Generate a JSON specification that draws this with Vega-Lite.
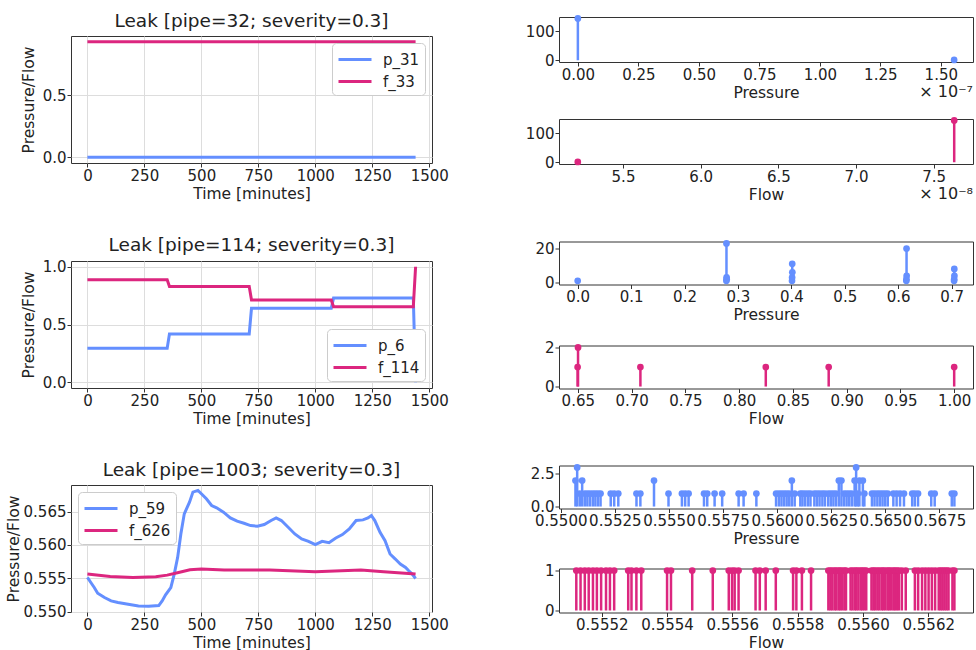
{
  "$schema": "https://vega.github.io/schema/vega-lite/v6.json",
  "padding": {"left": 5, "top": 11, "right": 0, "bottom": 0},
  "background": "white",
  "datasets": {
    "line1": [
      {"t": 0, "value": 0.0, "series": "p_31"},
      {"t": 720, "value": 0.0, "series": "p_31"},
      {"t": 1440, "value": 0.0, "series": "p_31"},
      {"t": 0, "value": 0.932, "series": "f_33"},
      {"t": 720, "value": 0.932, "series": "f_33"},
      {"t": 1440, "value": 0.932, "series": "f_33"}
    ],
    "line2": [
      {"t": 0, "value": 0.294, "series": "p_6"},
      {"t": 350, "value": 0.294, "series": "p_6"},
      {"t": 360, "value": 0.418, "series": "p_6"},
      {"t": 710, "value": 0.418, "series": "p_6"},
      {"t": 720, "value": 0.64, "series": "p_6"},
      {"t": 1070, "value": 0.64, "series": "p_6"},
      {"t": 1080, "value": 0.729, "series": "p_6"},
      {"t": 1430, "value": 0.729, "series": "p_6"},
      {"t": 1440, "value": 0.0, "series": "p_6"},
      {"t": 0, "value": 0.888, "series": "f_114"},
      {"t": 350, "value": 0.888, "series": "f_114"},
      {"t": 360, "value": 0.83, "series": "f_114"},
      {"t": 710, "value": 0.83, "series": "f_114"},
      {"t": 720, "value": 0.712, "series": "f_114"},
      {"t": 1070, "value": 0.712, "series": "f_114"},
      {"t": 1080, "value": 0.654, "series": "f_114"},
      {"t": 1430, "value": 0.654, "series": "f_114"},
      {"t": 1440, "value": 1.0, "series": "f_114"}
    ],
    "line3": [
      {"t": 0, "value": 0.55515, "series": "p_59"},
      {"t": 15, "value": 0.5544, "series": "p_59"},
      {"t": 30, "value": 0.55365, "series": "p_59"},
      {"t": 45, "value": 0.5528, "series": "p_59"},
      {"t": 75, "value": 0.55215, "series": "p_59"},
      {"t": 104, "value": 0.55165, "series": "p_59"},
      {"t": 134, "value": 0.5514, "series": "p_59"},
      {"t": 179, "value": 0.55115, "series": "p_59"},
      {"t": 224, "value": 0.5509, "series": "p_59"},
      {"t": 269, "value": 0.55085, "series": "p_59"},
      {"t": 313, "value": 0.55095, "series": "p_59"},
      {"t": 328, "value": 0.55165, "series": "p_59"},
      {"t": 343, "value": 0.55255, "series": "p_59"},
      {"t": 366, "value": 0.55365, "series": "p_59"},
      {"t": 381, "value": 0.55565, "series": "p_59"},
      {"t": 396, "value": 0.55815, "series": "p_59"},
      {"t": 410, "value": 0.56165, "series": "p_59"},
      {"t": 425, "value": 0.56465, "series": "p_59"},
      {"t": 448, "value": 0.5664, "series": "p_59"},
      {"t": 463, "value": 0.5679, "series": "p_59"},
      {"t": 485, "value": 0.56815, "series": "p_59"},
      {"t": 500, "value": 0.56765, "series": "p_59"},
      {"t": 522, "value": 0.5669, "series": "p_59"},
      {"t": 545, "value": 0.5659, "series": "p_59"},
      {"t": 567, "value": 0.56555, "series": "p_59"},
      {"t": 597, "value": 0.5649, "series": "p_59"},
      {"t": 627, "value": 0.56405, "series": "p_59"},
      {"t": 657, "value": 0.56355, "series": "p_59"},
      {"t": 687, "value": 0.56325, "series": "p_59"},
      {"t": 716, "value": 0.5629, "series": "p_59"},
      {"t": 746, "value": 0.5628, "series": "p_59"},
      {"t": 776, "value": 0.56305, "series": "p_59"},
      {"t": 806, "value": 0.56365, "series": "p_59"},
      {"t": 828, "value": 0.56405, "series": "p_59"},
      {"t": 851, "value": 0.56365, "series": "p_59"},
      {"t": 881, "value": 0.56265, "series": "p_59"},
      {"t": 910, "value": 0.56165, "series": "p_59"},
      {"t": 940, "value": 0.5609, "series": "p_59"},
      {"t": 970, "value": 0.56055, "series": "p_59"},
      {"t": 1000, "value": 0.56005, "series": "p_59"},
      {"t": 1030, "value": 0.56055, "series": "p_59"},
      {"t": 1060, "value": 0.56035, "series": "p_59"},
      {"t": 1090, "value": 0.56105, "series": "p_59"},
      {"t": 1119, "value": 0.56155, "series": "p_59"},
      {"t": 1149, "value": 0.5624, "series": "p_59"},
      {"t": 1179, "value": 0.56365, "series": "p_59"},
      {"t": 1209, "value": 0.56375, "series": "p_59"},
      {"t": 1231, "value": 0.56405, "series": "p_59"},
      {"t": 1246, "value": 0.5644, "series": "p_59"},
      {"t": 1261, "value": 0.56365, "series": "p_59"},
      {"t": 1284, "value": 0.5619, "series": "p_59"},
      {"t": 1306, "value": 0.56065, "series": "p_59"},
      {"t": 1328, "value": 0.55865, "series": "p_59"},
      {"t": 1351, "value": 0.5579, "series": "p_59"},
      {"t": 1373, "value": 0.55715, "series": "p_59"},
      {"t": 1396, "value": 0.55665, "series": "p_59"},
      {"t": 1410, "value": 0.55615, "series": "p_59"},
      {"t": 1425, "value": 0.55565, "series": "p_59"},
      {"t": 1440, "value": 0.555, "series": "p_59"},
      {"t": 0, "value": 0.55565, "series": "f_626"},
      {"t": 100, "value": 0.5553, "series": "f_626"},
      {"t": 200, "value": 0.55515, "series": "f_626"},
      {"t": 300, "value": 0.55525, "series": "f_626"},
      {"t": 350, "value": 0.5555, "series": "f_626"},
      {"t": 400, "value": 0.5559, "series": "f_626"},
      {"t": 450, "value": 0.5563, "series": "f_626"},
      {"t": 500, "value": 0.5564, "series": "f_626"},
      {"t": 600, "value": 0.55625, "series": "f_626"},
      {"t": 800, "value": 0.55625, "series": "f_626"},
      {"t": 1000, "value": 0.556, "series": "f_626"},
      {"t": 1200, "value": 0.55625, "series": "f_626"},
      {"t": 1300, "value": 0.556, "series": "f_626"},
      {"t": 1440, "value": 0.55565, "series": "f_626"}
    ],
    "p1": [{"v": 0, "c": 143}, {"v": 1.555e-7, "c": 1}],
    "f1": [{"v": 5.209e-8, "c": 1}, {"v": 7.632e-8, "c": 143}],
    "p2": [
      {"v": 0, "c": 1},
      {"v": 0.2783, "c": 1}, {"v": 0.2785, "c": 23}, {"v": 0.2787, "c": 3}, {"v": 0.2789, "c": 2},
      {"v": 0.4012, "c": 1}, {"v": 0.4014, "c": 3}, {"v": 0.4016, "c": 11}, {"v": 0.4018, "c": 6},
      {"v": 0.6152, "c": 1}, {"v": 0.6154, "c": 2}, {"v": 0.6156, "c": 20}, {"v": 0.6158, "c": 4},
      {"v": 0.7046, "c": 1}, {"v": 0.7048, "c": 2}, {"v": 0.705, "c": 8}, {"v": 0.7052, "c": 4}
    ],
    "f2": [
      {"v": 0.6498, "c": 1}, {"v": 0.6502, "c": 2}, {"v": 0.7082, "c": 1},
      {"v": 0.8248, "c": 1}, {"v": 0.8833, "c": 1}, {"v": 1.0, "c": 1}
    ],
    "p3": [
      {"v": 0.55068, "c": 2}, {"v": 0.55076, "c": 3}, {"v": 0.55088, "c": 1}, {"v": 0.55099, "c": 2},
      {"v": 0.55111, "c": 1}, {"v": 0.55123, "c": 1}, {"v": 0.55135, "c": 1}, {"v": 0.55148, "c": 1},
      {"v": 0.5516, "c": 1}, {"v": 0.55172, "c": 1}, {"v": 0.55184, "c": 1},
      {"v": 0.55231, "c": 1}, {"v": 0.55247, "c": 1}, {"v": 0.55266, "c": 1},
      {"v": 0.5535, "c": 1}, {"v": 0.55368, "c": 1}, {"v": 0.55431, "c": 2}, {"v": 0.55498, "c": 1},
      {"v": 0.5556, "c": 1}, {"v": 0.55575, "c": 1}, {"v": 0.55591, "c": 1},
      {"v": 0.55662, "c": 1}, {"v": 0.55677, "c": 1}, {"v": 0.55711, "c": 1}, {"v": 0.55746, "c": 1},
      {"v": 0.55822, "c": 1}, {"v": 0.55845, "c": 1}, {"v": 0.55904, "c": 1},
      {"v": 0.55995, "c": 1}, {"v": 0.56008, "c": 1}, {"v": 0.5602, "c": 1}, {"v": 0.56032, "c": 1},
      {"v": 0.56044, "c": 1}, {"v": 0.56056, "c": 1}, {"v": 0.56068, "c": 2}, {"v": 0.56081, "c": 1},
      {"v": 0.56107, "c": 1}, {"v": 0.56117, "c": 1}, {"v": 0.56129, "c": 1}, {"v": 0.56142, "c": 1},
      {"v": 0.56154, "c": 1}, {"v": 0.56172, "c": 1}, {"v": 0.56184, "c": 1}, {"v": 0.56196, "c": 1},
      {"v": 0.56209, "c": 1}, {"v": 0.56221, "c": 1}, {"v": 0.56236, "c": 1}, {"v": 0.56248, "c": 1},
      {"v": 0.5626, "c": 1}, {"v": 0.56272, "c": 1}, {"v": 0.56285, "c": 2}, {"v": 0.56297, "c": 2},
      {"v": 0.56309, "c": 1}, {"v": 0.56321, "c": 1}, {"v": 0.56333, "c": 1}, {"v": 0.56345, "c": 1},
      {"v": 0.56358, "c": 2}, {"v": 0.56365, "c": 3}, {"v": 0.56373, "c": 1}, {"v": 0.5638, "c": 2},
      {"v": 0.56396, "c": 2}, {"v": 0.56403, "c": 1},
      {"v": 0.56438, "c": 1}, {"v": 0.5645, "c": 1}, {"v": 0.56463, "c": 1}, {"v": 0.56475, "c": 1},
      {"v": 0.56487, "c": 1}, {"v": 0.56499, "c": 1}, {"v": 0.56511, "c": 1},
      {"v": 0.56537, "c": 1}, {"v": 0.56552, "c": 1}, {"v": 0.56568, "c": 1}, {"v": 0.56586, "c": 1},
      {"v": 0.56624, "c": 1}, {"v": 0.56636, "c": 1}, {"v": 0.56651, "c": 1},
      {"v": 0.56712, "c": 1}, {"v": 0.56728, "c": 1}, {"v": 0.56807, "c": 1}, {"v": 0.56819, "c": 1}
    ],
    "f3": [
      {"v": 0.555122, "c": 1}, {"v": 0.555135, "c": 1}, {"v": 0.555148, "c": 1}, {"v": 0.55516, "c": 1},
      {"v": 0.555173, "c": 1}, {"v": 0.555185, "c": 1}, {"v": 0.555198, "c": 1}, {"v": 0.555213, "c": 1},
      {"v": 0.555225, "c": 1}, {"v": 0.555238, "c": 1},
      {"v": 0.555281, "c": 1}, {"v": 0.555291, "c": 1}, {"v": 0.555306, "c": 1}, {"v": 0.555321, "c": 1},
      {"v": 0.5554, "c": 1}, {"v": 0.555412, "c": 1}, {"v": 0.555477, "c": 1}, {"v": 0.55554, "c": 1},
      {"v": 0.555589, "c": 1}, {"v": 0.555599, "c": 1}, {"v": 0.555607, "c": 1}, {"v": 0.555619, "c": 1},
      {"v": 0.555671, "c": 1}, {"v": 0.555684, "c": 1}, {"v": 0.555702, "c": 1}, {"v": 0.555733, "c": 1},
      {"v": 0.555786, "c": 1}, {"v": 0.555796, "c": 1}, {"v": 0.555813, "c": 1}, {"v": 0.555841, "c": 1},
      {"v": 0.555894, "c": 1}, {"v": 0.5559, "c": 1}, {"v": 0.555906, "c": 1}, {"v": 0.555913, "c": 1},
      {"v": 0.555918, "c": 1}, {"v": 0.555925, "c": 1}, {"v": 0.55593, "c": 1}, {"v": 0.555936, "c": 1},
      {"v": 0.555943, "c": 1}, {"v": 0.555948, "c": 1},
      {"v": 0.555962, "c": 1}, {"v": 0.555968, "c": 1}, {"v": 0.555975, "c": 1}, {"v": 0.55598, "c": 1},
      {"v": 0.555986, "c": 1}, {"v": 0.555993, "c": 1}, {"v": 0.555998, "c": 1}, {"v": 0.556004, "c": 1},
      {"v": 0.55601, "c": 1},
      {"v": 0.556026, "c": 1}, {"v": 0.556032, "c": 1}, {"v": 0.556037, "c": 1}, {"v": 0.556044, "c": 1},
      {"v": 0.55605, "c": 1}, {"v": 0.556057, "c": 1}, {"v": 0.556062, "c": 1}, {"v": 0.556068, "c": 1},
      {"v": 0.556075, "c": 1}, {"v": 0.55608, "c": 1}, {"v": 0.556086, "c": 1}, {"v": 0.556093, "c": 1},
      {"v": 0.556098, "c": 1}, {"v": 0.556104, "c": 1}, {"v": 0.55611, "c": 1},
      {"v": 0.556119, "c": 1}, {"v": 0.556131, "c": 1}, {"v": 0.556159, "c": 1}, {"v": 0.556169, "c": 1},
      {"v": 0.556181, "c": 1}, {"v": 0.556191, "c": 1}, {"v": 0.556201, "c": 1}, {"v": 0.556211, "c": 1},
      {"v": 0.556221, "c": 1},
      {"v": 0.556232, "c": 1}, {"v": 0.556238, "c": 1}, {"v": 0.556244, "c": 1}, {"v": 0.55625, "c": 1},
      {"v": 0.556256, "c": 1}, {"v": 0.556262, "c": 1}, {"v": 0.556274, "c": 1}, {"v": 0.55628, "c": 1}
    ]
  },
  "hconcat": [
    {
      "vconcat": [
        {
          "width": 1, "height": 1,
          "data": {"values": []},
          "mark": {"type": "point", "opacity": 0},
          "encoding": {},
          "view": {"stroke": null}
        },
        {
          "vconcat": [
            {
              "width": 361, "height": 127,
              "title": "Leak [pipe=32; severity=0.3]",
              "data": {"name": "line1"},
              "mark": {"type": "line", "strokeWidth": 3},
              "encoding": {
                "x": {"field": "t", "type": "quantitative", "scale": {"domain": [-72, 1512], "nice": false, "zero": false},
                      "axis": {"values": [0, 250, 500, 750, 1000, 1250, 1500], "format": "d", "title": "Time [minutes]", "grid": true}},
                "y": {"field": "value", "type": "quantitative", "scale": {"domain": [-0.046, 0.978], "nice": false, "zero": false},
                      "axis": {"values": [0, 0.5], "format": ".1f", "title": "Pressure/Flow", "grid": true, "titlePadding": 6}},
                "color": {"field": "series", "type": "nominal", "scale": {"domain": ["p_31", "f_33"], "range": ["#648FFF", "#DC267F"]},
                          "legend": {"orient": "top-right", "title": null}}
              }
            },
            {
              "width": 361, "height": 127,
              "title": "Leak [pipe=114; severity=0.3]",
              "data": {"name": "line2"},
              "mark": {"type": "line", "strokeWidth": 3},
              "encoding": {
                "x": {"field": "t", "type": "quantitative", "scale": {"domain": [-72, 1512], "nice": false, "zero": false},
                      "axis": {"values": [0, 250, 500, 750, 1000, 1250, 1500], "format": "d", "title": "Time [minutes]", "grid": true}},
                "y": {"field": "value", "type": "quantitative", "scale": {"domain": [-0.05, 1.05], "nice": false, "zero": false},
                      "axis": {"values": [0, 0.5, 1], "format": ".1f", "title": "Pressure/Flow", "grid": true, "titlePadding": 6}},
                "color": {"field": "series", "type": "nominal", "scale": {"domain": ["p_6", "f_114"], "range": ["#648FFF", "#DC267F"]},
                          "legend": {"orient": "bottom-right", "title": null}}
              }
            },
            {
              "width": 361, "height": 127,
              "title": "Leak [pipe=1003; severity=0.3]",
              "data": {"name": "line3"},
              "mark": {"type": "line", "strokeWidth": 3},
              "encoding": {
                "x": {"field": "t", "type": "quantitative", "scale": {"domain": [-72, 1512], "nice": false, "zero": false},
                      "axis": {"values": [0, 250, 500, 750, 1000, 1250, 1500], "format": "d", "title": "Time [minutes]", "grid": true}},
                "y": {"field": "value", "type": "quantitative", "scale": {"domain": [0.54999, 0.56896], "nice": false, "zero": false},
                      "axis": {"values": [0.55, 0.555, 0.56, 0.565], "format": ".3f", "title": "Pressure/Flow", "grid": true, "titlePadding": 2}},
                "color": {"field": "series", "type": "nominal", "scale": {"domain": ["p_59", "f_626"], "range": ["#648FFF", "#DC267F"]},
                          "legend": {"orient": "top-left", "title": null}}
              }
            }
          ],
          "spacing": 33,
          "resolve": {"scale": {"x": "independent", "y": "independent", "color": "independent"}, "axis": {"x": "independent", "y": "independent"}, "legend": {"color": "independent"}}
        }
      ],
      "spacing": -7,
      "resolve": {"scale": {"x": "independent", "y": "independent", "color": "independent"}, "axis": {"x": "independent", "y": "independent"}, "legend": {"color": "independent"}}
    },
    {
      "vconcat": [
        {
          "vconcat": [
            {
              "width": 414, "height": 45,
              "data": {"name": "p1"},
              "title": {"text": "× 10⁻⁷", "orient": "bottom", "anchor": "end", "fontSize": 16, "offset": -17},
              "encoding": {
                "x": {"field": "v", "type": "quantitative", "scale": {"domain": [-0.078e-7, 1.633e-7], "nice": false, "zero": false},
                      "axis": {"values": [0, 2.5e-8, 5e-8, 7.5e-8, 1e-7, 1.25e-7, 1.5e-7], "labelExpr": "format(datum.value*1e7, '.2f')", "title": "Pressure", "grid": false}},
                "y": {"field": "c", "type": "quantitative", "scale": {"domain": [-6, 148], "nice": false, "zero": false},
                      "axis": {"values": [0, 100], "format": "d", "title": null, "grid": false}}
              },
              "layer": [
                {"mark": {"type": "rule", "strokeWidth": 2.5, "color": "#648FFF"}, "encoding": {"y2": {"datum": 0}}},
                {"mark": {"type": "circle", "size": 45, "opacity": 1, "color": "#648FFF"}}
              ]
            },
            {
              "width": 414, "height": 45,
              "data": {"name": "f1"},
              "title": {"text": "× 10⁻⁸", "orient": "bottom", "anchor": "end", "fontSize": 16, "offset": -17},
              "encoding": {
                "x": {"field": "v", "type": "quantitative", "scale": {"domain": [5.088e-8, 7.753e-8], "nice": false, "zero": false},
                      "axis": {"values": [5.5e-8, 6e-8, 6.5e-8, 7e-8, 7.5e-8], "labelExpr": "format(datum.value*1e8, '.1f')", "title": "Flow", "grid": false}},
                "y": {"field": "c", "type": "quantitative", "scale": {"domain": [-6, 148], "nice": false, "zero": false},
                      "axis": {"values": [0, 100], "format": "d", "title": null, "grid": false}}
              },
              "layer": [
                {"mark": {"type": "rule", "strokeWidth": 2.5, "color": "#DC267F"}, "encoding": {"y2": {"datum": 0}}},
                {"mark": {"type": "circle", "size": 45, "opacity": 1, "color": "#DC267F"}}
              ]
            }
          ],
          "bounds": "flush", "spacing": 57,
          "resolve": {"scale": {"x": "independent", "y": "independent"}, "axis": {"x": "independent", "y": "independent"}}
        },
        {
          "vconcat": [
            {
              "vconcat": [
                {
                  "width": 414, "height": 43,
                  "data": {"name": "p2"},
                  "encoding": {
                    "x": {"field": "v", "type": "quantitative", "scale": {"domain": [-0.035, 0.74], "nice": false, "zero": false},
                          "axis": {"values": [0, 0.1, 0.2, 0.3, 0.4, 0.5, 0.6, 0.7], "format": ".1f", "title": "Pressure", "grid": false}},
                    "y": {"field": "c", "type": "quantitative", "scale": {"domain": [-1.15, 24.15], "nice": false, "zero": false},
                          "axis": {"values": [0, 20], "format": "d", "title": null, "grid": false}}
                  },
                  "layer": [
                    {"mark": {"type": "rule", "strokeWidth": 2.5, "color": "#648FFF"}, "encoding": {"y2": {"datum": 0}}},
                    {"mark": {"type": "circle", "size": 45, "opacity": 1, "color": "#648FFF"}}
                  ]
                },
                {
                  "width": 414, "height": 43,
                  "data": {"name": "f2"},
                  "encoding": {
                    "x": {"field": "v", "type": "quantitative", "scale": {"domain": [0.6325, 1.0175], "nice": false, "zero": false},
                          "axis": {"values": [0.65, 0.7, 0.75, 0.8, 0.85, 0.9, 0.95, 1.0], "format": ".2f", "title": "Flow", "grid": false}},
                    "y": {"field": "c", "type": "quantitative", "scale": {"domain": [-0.1, 2.1], "nice": false, "zero": false},
                          "axis": {"values": [0, 2], "format": "d", "title": null, "grid": false}}
                  },
                  "layer": [
                    {"mark": {"type": "rule", "strokeWidth": 2.5, "color": "#DC267F"}, "encoding": {"y2": {"datum": 0}}},
                    {"mark": {"type": "circle", "size": 45, "opacity": 1, "color": "#DC267F"}}
                  ]
                }
              ],
              "bounds": "flush", "spacing": 61,
              "resolve": {"scale": {"x": "independent", "y": "independent"}, "axis": {"x": "independent", "y": "independent"}}
            },
            {
              "vconcat": [
                {
                  "width": 414, "height": 43,
                  "data": {"name": "p3"},
                  "encoding": {
                    "x": {"field": "v", "type": "quantitative", "scale": {"domain": [0.54992, 0.56905], "nice": false, "zero": false},
                          "axis": {"values": [0.55, 0.5525, 0.555, 0.5575, 0.56, 0.5625, 0.565, 0.5675], "format": ".4f", "title": "Pressure", "grid": false}},
                    "y": {"field": "c", "type": "quantitative", "scale": {"domain": [-0.15, 3.15], "nice": false, "zero": false},
                          "axis": {"values": [0, 2.5], "format": ".1f", "title": null, "grid": false}}
                  },
                  "layer": [
                    {"mark": {"type": "rule", "strokeWidth": 2.5, "color": "#648FFF"}, "encoding": {"y2": {"datum": 0}}},
                    {"mark": {"type": "circle", "size": 45, "opacity": 1, "color": "#648FFF"}}
                  ]
                },
                {
                  "width": 414, "height": 44,
                  "data": {"name": "f3"},
                  "encoding": {
                    "x": {"field": "v", "type": "quantitative", "scale": {"domain": [0.555069, 0.556337], "nice": false, "zero": false},
                          "axis": {"values": [0.5552, 0.5554, 0.5556, 0.5558, 0.556, 0.5562], "format": ".4f", "title": "Flow", "grid": false}},
                    "y": {"field": "c", "type": "quantitative", "scale": {"domain": [-0.05, 1.05], "nice": false, "zero": false},
                          "axis": {"values": [0, 1], "format": "d", "title": null, "grid": false}}
                  },
                  "layer": [
                    {"mark": {"type": "rule", "strokeWidth": 2.5, "color": "#DC267F"}, "encoding": {"y2": {"datum": 0}}},
                    {"mark": {"type": "circle", "size": 45, "opacity": 1, "color": "#DC267F"}}
                  ]
                }
              ],
              "bounds": "flush", "spacing": 60,
              "resolve": {"scale": {"x": "independent", "y": "independent"}, "axis": {"x": "independent", "y": "independent"}}
            }
          ],
          "spacing": 36,
          "resolve": {"scale": {"x": "independent", "y": "independent"}, "axis": {"x": "independent", "y": "independent"}}
        }
      ],
      "spacing": 36.5,
      "resolve": {"scale": {"x": "independent", "y": "independent"}, "axis": {"x": "independent", "y": "independent"}}
    }
  ],
  "spacing": 75,
  "resolve": {"scale": {"x": "independent", "y": "independent", "color": "independent"}, "axis": {"x": "independent", "y": "independent"}, "legend": {"color": "independent"}},
  "config": {
    "font": "DejaVu Sans",
    "view": {"stroke": "#333333", "strokeWidth": 1},
    "axis": {"labelFontSize": 15, "titleFontSize": 15.5, "titleFontWeight": "normal", "labelColor": "#222222", "titleColor": "#222222",
             "tickColor": "#333333", "tickSize": 4, "domain": false, "gridColor": "#dddddd", "labelFlush": false, "labelOverlap": false,
             "labelBound": false, "labelPadding": 1, "titlePadding": 3},
    "title": {"fontSize": 18.5, "fontWeight": "normal", "color": "#222222", "offset": 5},
    "legend": {"labelFontSize": 15, "labelColor": "#222222", "symbolType": "M-1,0H2.3", "symbolStrokeWidth": 3, "symbolSize": 400,
               "strokeColor": "#cccccc", "fillColor": "white", "padding": 5, "cornerRadius": 4, "offset": 7, "rowPadding": 2, "labelOffset": 23}
  }
}
